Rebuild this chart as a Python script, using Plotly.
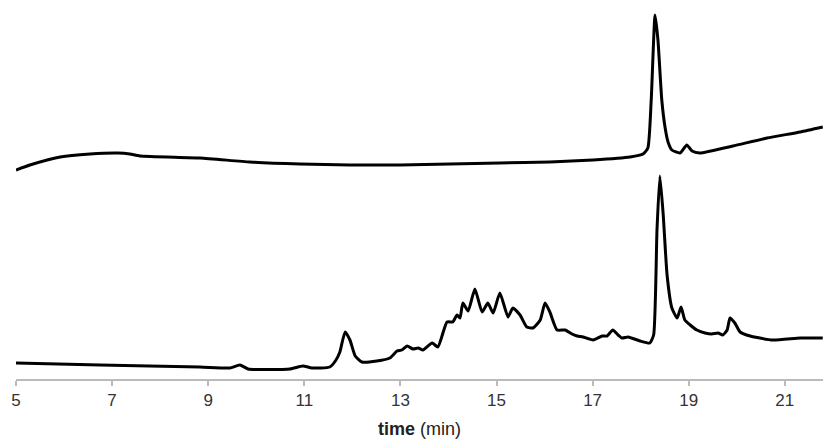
import plotly.graph_objects as go

# Upper chromatogram
t_top = [5.00, 5.29, 5.92, 6.54, 7.12, 7.37, 7.58, 8.83, 9.87, 10.91, 11.95, 12.99, 14.03,
         15.07, 16.11, 17.01, 17.78, 18.05, 18.15, 18.22, 18.30, 18.36, 18.44, 18.51, 18.57,
         18.65, 18.82, 18.96, 19.07, 19.23, 19.92, 20.63, 21.32, 21.79]
s_top = [209, 214, 222, 225, 226, 225, 223, 221, 217, 215, 214, 214, 215,
         216, 217, 219, 222, 225, 231, 279, 364, 339, 279, 251, 237,
         229, 226, 234, 228, 226, 233, 241, 247, 252]

# Lower chromatogram
t_bot = [5.00, 6.75, 8.83, 9.45, 9.66, 9.83, 10.70, 10.97, 11.16, 11.53, 11.66, 11.74, 11.85,
         11.95, 12.06, 12.20, 12.51, 12.78, 12.93, 13.03, 13.14, 13.26, 13.37, 13.47, 13.66,
         13.78, 13.97, 14.09, 14.18, 14.24, 14.30, 14.41, 14.55, 14.70, 14.82, 14.93, 15.07,
         15.24, 15.34, 15.49, 15.63, 15.76, 15.91, 16.01, 16.11, 16.26, 16.43, 16.57, 16.68,
         16.80, 17.01, 17.20, 17.30, 17.42, 17.53, 17.61, 17.74, 17.99, 18.19, 18.27, 18.34,
         18.40, 18.47, 18.55, 18.65, 18.76, 18.84, 18.92, 19.03, 19.17, 19.34, 19.48, 19.61,
         19.71, 19.80, 19.86, 19.96, 20.07, 20.28, 20.75, 21.32, 21.79]
s_bot = [16, 14, 12, 11, 14, 10, 10, 13, 11, 12, 19, 27, 47,
         39, 23, 17, 18, 21, 28, 29, 33, 30, 31, 29, 36,
         32, 57, 57, 64, 61, 76, 68, 90, 67, 76, 66, 86,
         62, 71, 64, 52, 51, 59, 76, 67, 49, 49, 45, 43,
         42, 39, 43, 43, 49, 44, 41, 42, 38, 36, 44, 149,
         203, 164, 104, 71, 61, 72, 59, 54, 49, 46, 45, 46,
         44, 49, 61, 56, 47, 43, 39, 41, 41]

tick_vals = [5, 7, 9, 11, 13, 15, 17, 19, 21]

fig = go.Figure()
for t, s in [(t_top, s_top), (t_bot, s_bot)]:
    fig.add_trace(go.Scatter(x=t, y=s, mode="lines",
                             line=dict(color="black", width=3, shape="spline", smoothing=0.5),
                             showlegend=False, hoverinfo="skip"))

fig.update_layout(
    width=823, height=440,
    margin=dict(l=16, r=0, t=0, b=61),
    plot_bgcolor="white", paper_bgcolor="white",
    font=dict(family="Liberation Sans, Arial, sans-serif", color="#333"),
    xaxis=dict(range=[5, 21.795], tickvals=tick_vals, ticktext=[str(v) for v in tick_vals],
               showgrid=False, zeroline=False, showline=True, linecolor="#bbbbbb", linewidth=2,
               ticks="outside", ticklen=5, tickcolor="#bbbbbb", tickwidth=1.5,
               tickfont=dict(size=17, color="#333"),
               title=dict(text="<b>time</b> (min)", font=dict(size=18, color="#222"), standoff=13)),
    yaxis=dict(range=[0, 379], visible=False, showgrid=False, zeroline=False),
)

fig.write_html("out.html")
